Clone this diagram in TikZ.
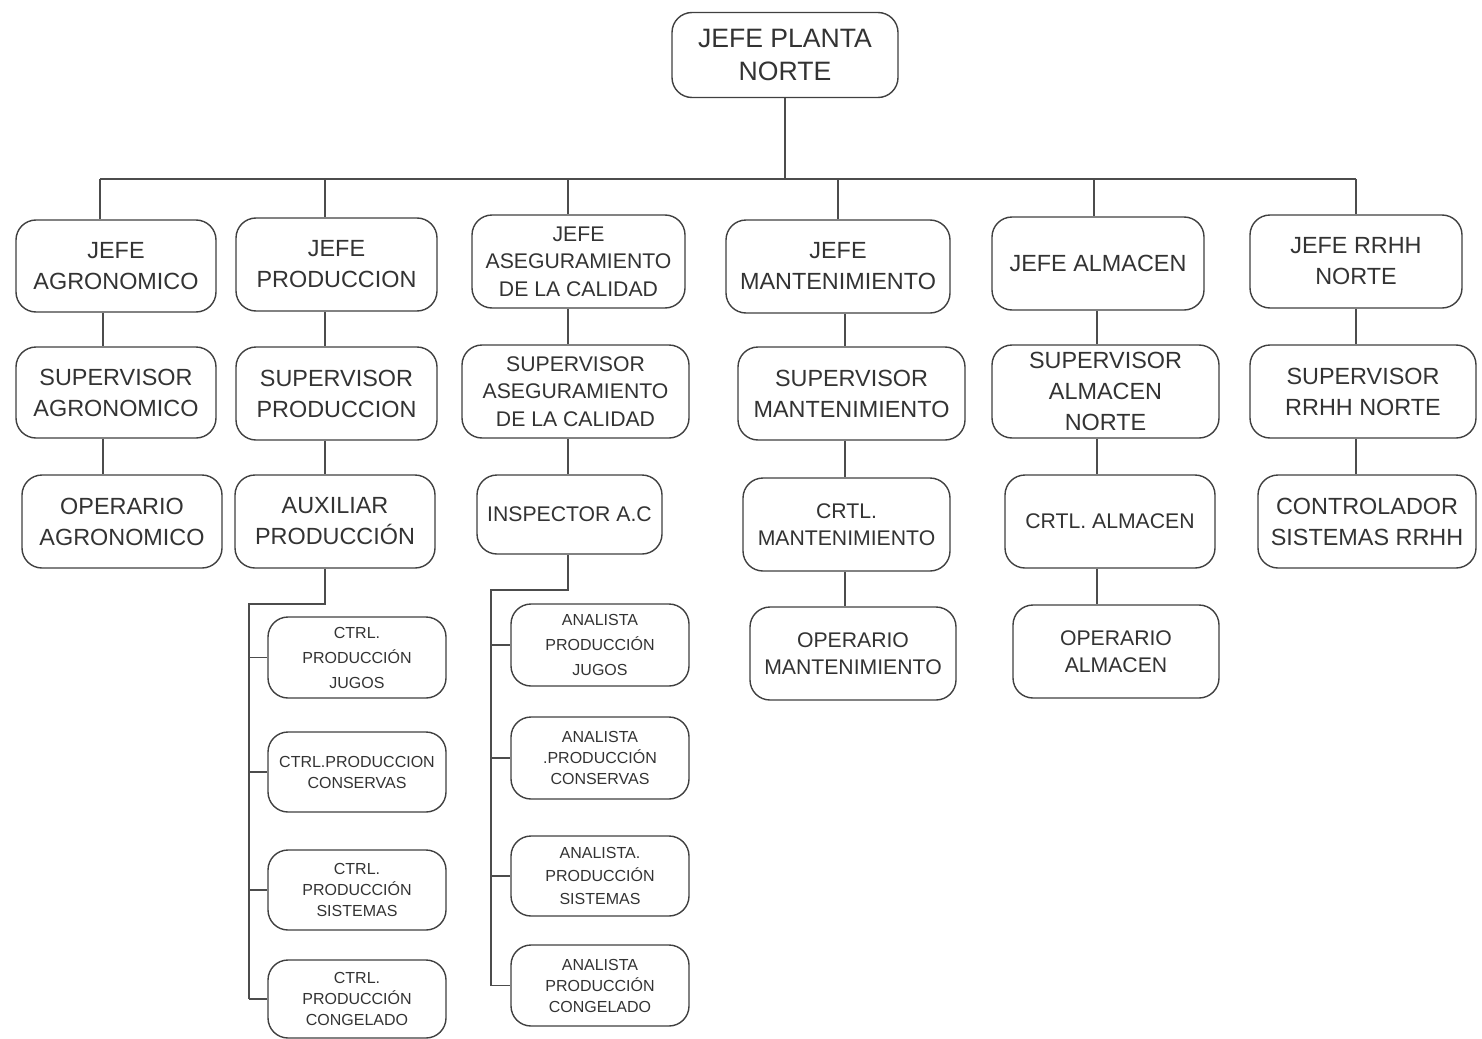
\documentclass[tikz,border=0pt]{standalone}
\usepackage{fontspec}
\setmainfont{Liberation Sans}
\begin{document}
\begin{tikzpicture}[x=0.5pt,y=-0.5pt,
  puesto/.style={draw=black!75, line width=0.7pt, rounded corners=10pt, align=center,
    inner sep=0pt, text=black!80, fill=white, font=\fontsize{11.7}{15.5}\selectfont},
  cabeza/.style={font=\fontsize{13.3}{16.5}\selectfont},
  calidad/.style={font=\fontsize{10.6}{13.8}\selectfont},
  menor/.style={font=\fontsize{8}{10.5}\selectfont},
  menorancho/.style={font=\fontsize{8}{12.5}\selectfont},
  caja/.style 2 args={minimum width=#1*0.5pt, minimum height=#2*0.5pt},
  linea/.style={draw=black!70, line width=0.75pt}]
\useasboundingbox (0,0) rectangle (1482,1038);

% jefe de planta
\node[puesto, cabeza, caja={226}{85}] (jpn) at (785,55) {JEFE PLANTA\\NORTE};

% jefes
\node[puesto, caja={200}{92}] (jagr) at (116,266) {JEFE\\AGRONOMICO};
\node[puesto, caja={201}{93}] (jpro) at (336.5,264.5) {JEFE\\PRODUCCION};
\node[puesto, calidad, caja={213}{93}] (jase) at (578.5,261.5) {JEFE\\ASEGURAMIENTO\\DE LA CALIDAD};
\node[puesto, caja={224}{93}] (jman) at (838,266.5) {JEFE\\MANTENIMIENTO};
\node[puesto, caja={212}{93}] (jalm) at (1098,263.5) {JEFE ALMACEN};
\node[puesto, caja={212}{93}] (jrh) at (1356,261.5) {JEFE RRHH\\NORTE};

% supervisores
\node[puesto, caja={200}{91}] (sagr) at (116,392.5) {SUPERVISOR\\AGRONOMICO};
\node[puesto, caja={201}{93}] (spro) at (336.5,393.5) {SUPERVISOR\\PRODUCCION};
\node[puesto, calidad, caja={227}{93}] (sase) at (575.5,391.5) {SUPERVISOR\\ASEGURAMIENTO\\DE LA CALIDAD};
\node[puesto, caja={227}{93}] (sman) at (851.5,393.5) {SUPERVISOR\\MANTENIMIENTO};
\node[puesto, caja={227}{93}] (salm) at (1105.5,391.5) {SUPERVISOR\\ALMACEN\\NORTE};
\node[puesto, caja={226}{93}] (srh) at (1363,391.5) {SUPERVISOR\\RRHH NORTE};

% tercer nivel
\node[puesto, caja={200}{93}] (oagr) at (122,521.5) {OPERARIO\\AGRONOMICO};
\node[puesto, caja={200}{93}] (apro) at (335,521.5) {AUXILIAR\\PRODUCCIÓN};
\node[puesto, calidad, caja={185}{79}] (iase) at (569.5,514.5) {INSPECTOR A.C};
\node[puesto, calidad, caja={207}{93}] (cman) at (846.5,524.5) {CRTL.\\MANTENIMIENTO};
\node[puesto, calidad, caja={210}{93}] (calm) at (1110,521.5) {CRTL. ALMACEN};
\node[puesto, caja={218}{93}] (crh) at (1367,521.5) {CONTROLADOR\\SISTEMAS RRHH};

% cuarto nivel
\node[puesto, calidad, caja={206}{93}] (oman) at (853,653.5) {OPERARIO\\MANTENIMIENTO};
\node[puesto, calidad, caja={206}{93}] (oalm) at (1116,651.5) {OPERARIO\\ALMACEN};

% controles de produccion
\node[puesto, menorancho, caja={178}{81}] (cpj) at (357,657.5) {CTRL.\\PRODUCCIÓN\\JUGOS};
\node[puesto, menor, caja={178}{80}] (cpc) at (357,772) {CTRL.PRODUCCION\\CONSERVAS};
\node[puesto, menor, caja={178}{80}] (cps) at (357,890) {CTRL.\\PRODUCCIÓN\\SISTEMAS};
\node[puesto, menor, caja={178}{78}] (cpg) at (357,999) {CTRL.\\PRODUCCIÓN\\CONGELADO};

% analistas
\node[puesto, menorancho, caja={178}{82}] (aj) at (600,645) {ANALISTA\\PRODUCCIÓN\\JUGOS};
\node[puesto, menor, caja={178}{82}] (ac) at (600,758) {ANALISTA\\.PRODUCCIÓN\\CONSERVAS};
\node[puesto, menor, font=\fontsize{8}{11.5}\selectfont, caja={178}{80}] (as) at (600,876) {ANALISTA.\\PRODUCCIÓN\\SISTEMAS};
\node[puesto, menor, caja={178}{81}] (ag) at (600,985.5) {ANALISTA\\PRODUCCIÓN\\CONGELADO};

% barra principal
\coordinate (bus) at (785,179);
\coordinate (d1) at (100,179);
\coordinate (d2) at (325,179);
\coordinate (d3) at (568,179);
\coordinate (d4) at (838,179);
\coordinate (d5) at (1094,179);
\coordinate (d6) at (1356,179);
\draw[linea] (jpn.south) -- (bus);
\draw[linea] (d1) -- (d6);
\foreach \d/\n in {d1/jagr,d2/jpro,d3/jase,d4/jman,d5/jalm,d6/jrh}
  \draw[linea] (\d) -- (\n.north -| \d);

% columnas
\coordinate (c1) at (103,0);
\coordinate (c2) at (325,0);
\coordinate (c3) at (568,0);
\coordinate (c4) at (845,0);
\coordinate (c5) at (1097,0);
\coordinate (c6) at (1356,0);
\foreach \c/\a/\b in {c1/jagr/sagr,c1/sagr/oagr,c2/jpro/spro,c2/spro/apro,
    c3/jase/sase,c3/sase/iase,c4/jman/sman,c4/sman/cman,c4/cman/oman,
    c5/jalm/salm,c5/salm/calm,c5/calm/oalm,c6/jrh/srh,c6/srh/crh}
  \draw[linea] (\a.south -| \c) -- (\b.north -| \c);

% ramas inferiores
\coordinate (pk) at (249,604);
\draw[linea] (apro.south -| c2) |- (pk) -- (pk |- cpg.west);
\foreach \n in {cpj,cpc,cps,cpg}
  \draw[linea] (pk |- \n.west) -- (\n.west);
\coordinate (ak) at (491,590);
\draw[linea] (iase.south -| c3) |- (ak) -- (ak |- ag.west);
\foreach \n in {aj,ac,as,ag}
  \draw[linea] (ak |- \n.west) -- (\n.west);
\end{tikzpicture}
\end{document}
